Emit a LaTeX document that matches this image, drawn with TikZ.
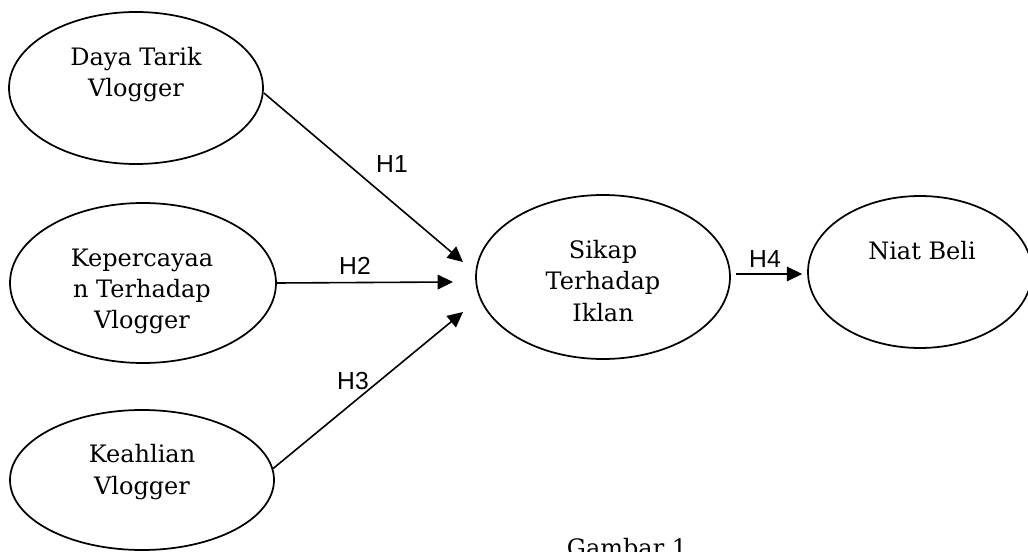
\documentclass[tikz,border=0pt]{standalone}
\usepackage{fontspec}
\setmainfont{DejaVu Serif}
\newfontfamily\labfont{Liberation Sans}
\usetikzlibrary{arrows.meta,shapes.geometric,calc}
\begin{document}
\begin{tikzpicture}[x=0.75pt,y=-0.75pt,
  var/.style={ellipse,draw,line width=1.3pt,inner sep=0pt},
  vtext/.style={anchor=base,align=center,inner sep=0pt,font=\fontsize{18}{23.6}\selectfont},
  hlab/.style={inner sep=0pt,font=\labfont\fontsize{18.5}{20}\selectfont},
  arr/.style={line width=1.2pt,-{Triangle[length=11.5pt,width=11pt]}}]
\useasboundingbox (0,0) rectangle (1028,552);
\clip (0,0) rectangle (1028,552);
% ellipses
\node[var,minimum width={254*0.75pt},minimum height={152*0.75pt}] (e1) at (136,88) {};
\node[var,minimum width={266*0.75pt},minimum height={160*0.75pt}] (e2) at (143,283) {};
\node[var,minimum width={264*0.75pt},minimum height={140*0.75pt}] (e3) at (142,480) {};
\node[var,minimum width={254*0.75pt},minimum height={164*0.75pt}] (e4) at (603,277) {};
\node[var,minimum width={224*0.75pt},minimum height={152*0.75pt}] (e5) at (920,272) {};
% texts (anchor base = last line's baseline)
\node[vtext] (t1) at (136,97) {Daya Tarik\\Vlogger};
\node[vtext] (t2) at (142,329) {Kepercayaa\\n Terhadap\\Vlogger};
\node[vtext] (t3) at (142,494) {Keahlian\\Vlogger};
\node[vtext] (t4) at (603,321) {Sikap\\Terhadap\\Iklan};
\node[vtext] (t5) at (922,260) {Niat Beli};
\node[vtext] (cap) at (627,556) {Gambar 1};
% arrow tips
\coordinate (p1) at (463,262);
\coordinate (p2) at (453,282);
\coordinate (p3) at (463,312);
\draw[arr] ([yshift=-5*0.75pt]e1.east) -- (p1);
\draw[arr] (e2.east) -- (p2);
\draw[arr] (e3.5) -- (p3);
\draw[arr] ([xshift=5*0.75pt,yshift=3*0.75pt]e4.east) -- ([xshift=-5*0.75pt,yshift=3*0.75pt]e4.east -| e5.west);
% labels
\node[hlab] (h1) at (392,164) {H1};
\node[hlab] (h2) at (355,266) {H2};
\node[hlab] (h3) at (353,381) {H3};
\node[hlab] (h4) at (765,259) {H4};
\end{tikzpicture}
\end{document}
